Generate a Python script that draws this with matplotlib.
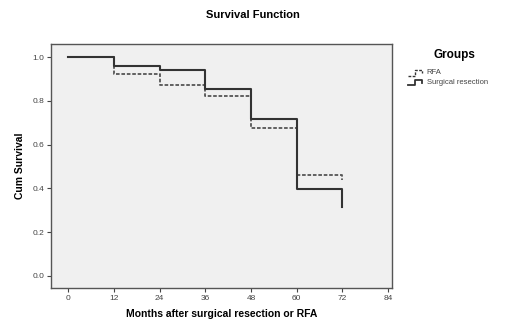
import matplotlib
matplotlib.use("Agg")
import matplotlib.pyplot as plt
from matplotlib.lines import Line2D

plt.rcParams['font.family'] = ['Liberation Sans', 'DejaVu Sans']

# Kaplan-Meier steps
months = [0, 12, 24, 36, 48, 60, 72]
surv_rfa = [1.0, 0.924, 0.874, 0.824, 0.677, 0.463, 0.438]
surv_surgery = [1.0, 0.960, 0.943, 0.853, 0.718, 0.396, 0.316]
group_names = ["RFA", "Surgical resection"]
x_ticks = [0, 12, 24, 36, 48, 60, 72, 84]
y_ticks = [0.0, 0.2, 0.4, 0.6, 0.8, 1.0]

fig = plt.figure(figsize=(5.05, 3.2), dpi=100)
ax = fig.add_axes([0.101, 0.1, 0.675, 0.7625])
ax.set_facecolor("#f0f0f0")

ax.step(months, surv_rfa, where="post", color="#555555", lw=1.3,
        linestyle=(0, (2, 1)))
ax.step(months, surv_surgery, where="post", color="#333333", lw=1.5)

ax.set_xlim(-4.5, 85)
ax.set_ylim(-0.055, 1.06)
ax.set_xticks(x_ticks)
ax.set_yticks(y_ticks)
ax.set_yticklabels([f"{v:.1f}" for v in y_ticks])
ax.tick_params(direction="out", length=3, width=0.8, labelsize=6,
               colors="#444444", pad=2)
for s in ax.spines.values():
    s.set_color("#555555")
    s.set_linewidth(1.0)

ax.set_xlabel("Months after surgical resection or RFA", fontsize=7.5,
              fontweight="bold", labelpad=5)
ax.set_ylabel("Cum Survival", fontsize=7.5, fontweight="bold", labelpad=5)
fig.text(0.5, 0.952, "Survival Function", ha="center", va="center",
         fontsize=8, fontweight="bold")

# legend
fig.text(0.899, 0.828, "Groups", ha="center", va="center", fontsize=8.5,
         fontweight="bold")
for i, (name, ls, lw) in enumerate(zip(group_names,
                                       [(0, (2, 1)), "-"], [1.0, 1.3])):
    yy = 0.772 - i * 0.03
    xs = [0.808, 0.822, 0.822, 0.836, 0.836]
    ys = [yy - 0.008, yy - 0.008, yy + 0.008, yy + 0.008, yy]
    fig.add_artist(Line2D(xs, ys, transform=fig.transFigure, color="#333333",
                          lw=lw, linestyle=ls))
    fig.text(0.845, yy, name, ha="left", va="center", fontsize=5.5,
             color="#444444")

fig.savefig("out.png", dpi=100)
